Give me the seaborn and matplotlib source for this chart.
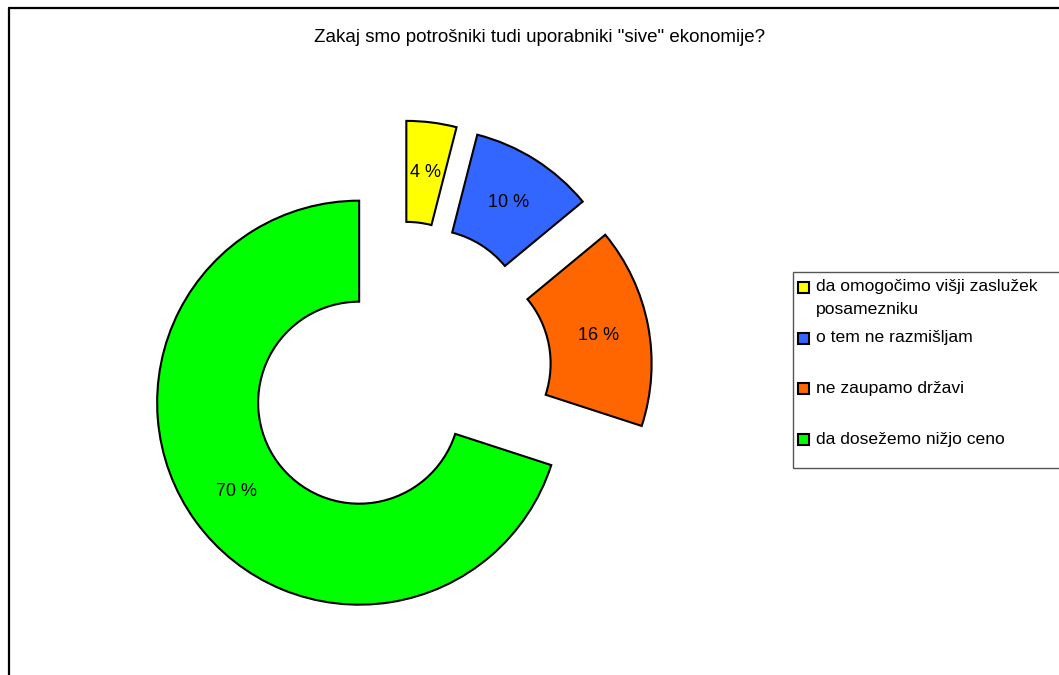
import matplotlib
matplotlib.use("Agg")
import matplotlib.pyplot as plt
from matplotlib.patches import Rectangle
from matplotlib.lines import Line2D
import seaborn as sns

# ================= data =================
title = 'Zakaj smo potrošniki tudi uporabniki "sive" ekonomije?'
categories = [
    "da omogočimo višji zaslužek\nposamezniku",
    "o tem ne razmišljam",
    "ne zaupamo državi",
    "da dosežemo nižjo ceno",
]
shares = [4, 10, 16, 70]
colors = ["#FFFF00", "#3366FF", "#FF6600", "#00FF00"]

# ================= style =================
sns.set_style("white")
plt.rcParams["font.family"] = ["Liberation Sans", "DejaVu Sans"]
plt.rcParams["text.color"] = "black"

W, H = 1059, 675
fig = plt.figure(figsize=(W / 100, H / 100), dpi=100)

# pie centre ~ (400, 374) px, radius 202 px
R = 202
cx, cy = 400, 373
half = 300
ax = fig.add_axes([(cx - half) / W, (H - cy - half) / H, 2 * half / W, 2 * half / H])

wedges, texts, autotexts = ax.pie(
    shares,
    colors=colors,
    startangle=90,
    counterclock=False,
    explode=[0.25] * len(shares),
    radius=1,
    autopct="%.0f %%",
    pctdistance=0.75,
    wedgeprops=dict(width=0.5, edgecolor="black", linewidth=1.5),
    textprops=dict(fontsize=13, color="black"),
)
lim = half / R
ax.set_xlim(-lim, lim)
ax.set_ylim(-lim, lim)
ax.set_aspect("equal")
ax.axis("off")

# title
fig.text(540 / W, 1 - 37 / H, title, ha="center", va="center", fontsize=13.5)

# outer chart frame (cut at right/bottom)
fig.add_artist(Line2D([8.5 / W, 8.5 / W], [0, 1 - 7.5 / H], color="black", lw=1.6))
fig.add_artist(Line2D([8.5 / W, 1], [1 - 7.5 / H, 1 - 7.5 / H], color="black", lw=1.6))

# legend box drawn by hand (Excel style)
fig.add_artist(Rectangle((793 / W, 1 - 468 / H), (1080 - 793) / W, (468 - 272) / H,
                         transform=fig.transFigure, facecolor="white",
                         edgecolor="#555555", lw=1.0))
for i, (lab, col) in enumerate(zip(categories, colors)):
    y = 287 + i * 50.7
    fig.add_artist(Rectangle((798 / W, 1 - (y + 6) / H), 11 / W, 11 / H,
                             transform=fig.transFigure, facecolor=col,
                             edgecolor="black", lw=1.5))
    for j, line in enumerate(lab.split("\n")):
        fig.text(816 / W, 1 - (y + j * 22) / H, line, ha="left", va="center",
                 fontsize=12.6)

fig.savefig("out.png", dpi=100, facecolor="white")
